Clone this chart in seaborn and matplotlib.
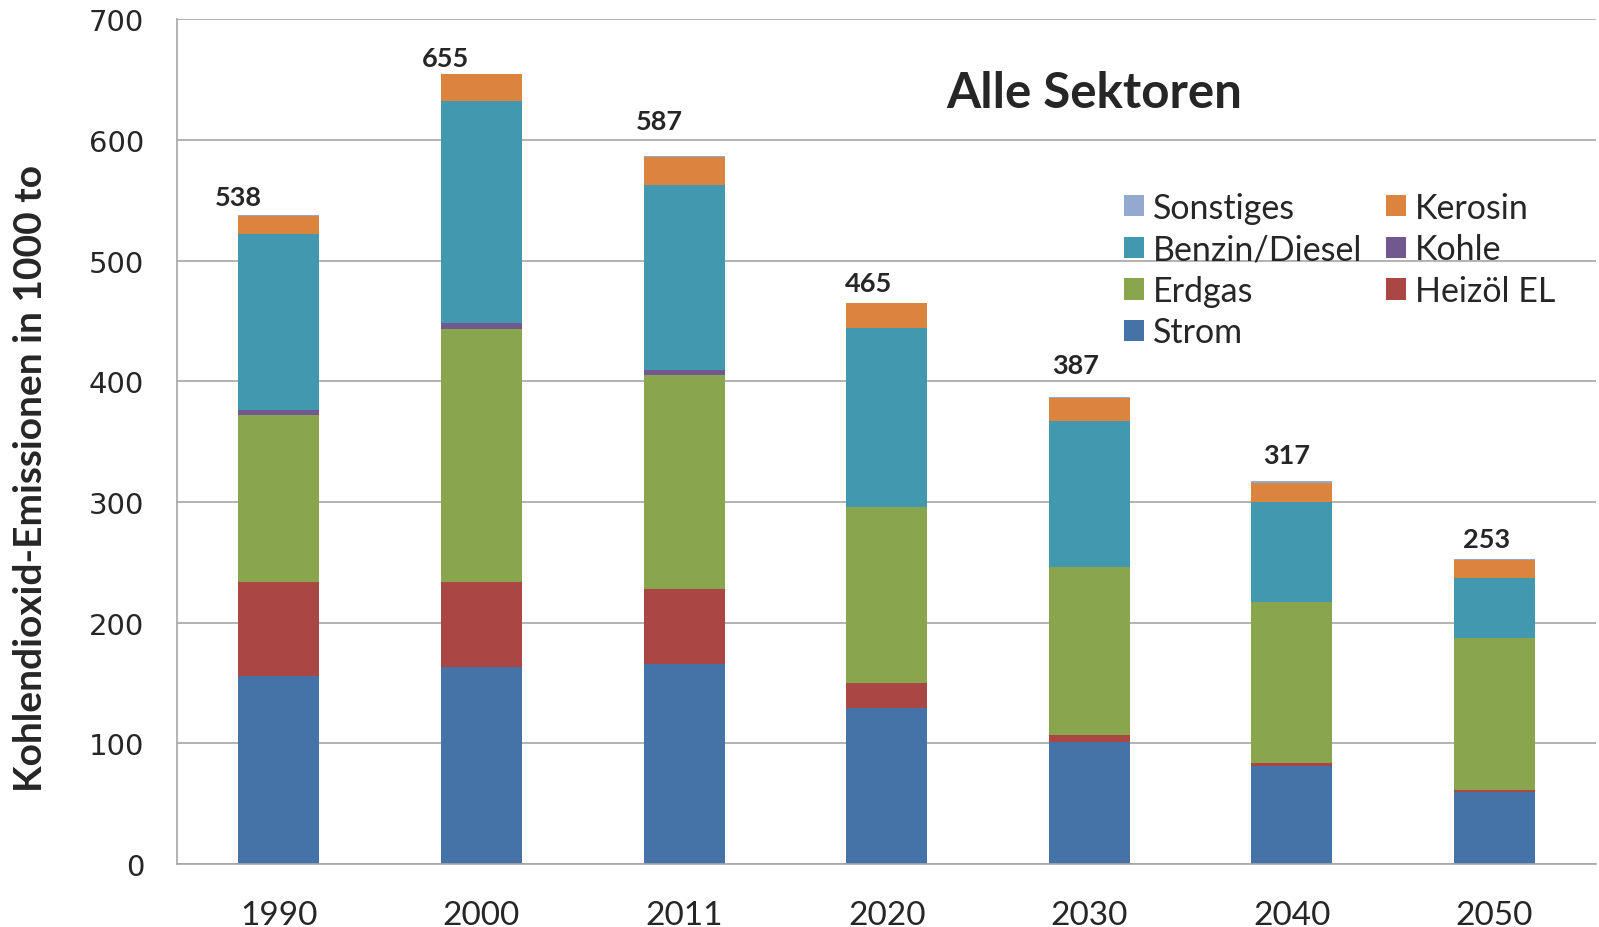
import matplotlib
matplotlib.use("Agg")
import matplotlib.pyplot as plt
from matplotlib.patches import Patch
from matplotlib.ticker import FixedLocator, MultipleLocator
import numpy as np
import pandas as pd
import seaborn as sns

# Data (1000 t CO2)
years = ["1990", "2000", "2011", "2020", "2030", "2040", "2050"]
strom = [156, 163, 166, 129, 101, 81, 60]
heizoel = [78, 71, 62, 21, 6, 3, 1]
erdgas = [138, 209, 177, 146, 139, 133, 126]
kohle = [4, 5, 4, 0, 0, 0, 0]
benzin = [146, 184, 154, 148, 121, 83, 50]
kerosin = [15, 23, 23, 21, 19, 16, 15]
sonstiges = [1, 0, 1, 0, 1, 1, 1]

# stacking order bottom -> top
series = ["Strom", "Heizöl EL", "Erdgas", "Kohle", "Benzin/Diesel", "Kerosin", "Sonstiges"]
values = [strom, heizoel, erdgas, kohle, benzin, kerosin, sonstiges]
colors = ["#4572A7", "#AA4643", "#89A54E", "#71588F", "#4198AF", "#DB843D", "#93A9CF"]

df = pd.DataFrame(dict(zip(series, values)), index=years)
cum = df.cumsum(axis=1)
totals = df.sum(axis=1)

# manual label nudges (points), like the hand-placed text boxes in the original
label_dx = [-29, -26, -18, -13, -10, -4, -6]
label_dy = [13, 11, 25, 14, 23, 19, 14]

sns.set_style("white")
plt.rcParams["font.family"] = ["Lato", "DejaVu Sans"]

fig = plt.figure(figsize=(15.99, 9.28), dpi=100)
ax = fig.add_axes([0.111, 0.068, 0.887, 0.910])

# draw cumulative totals from top layer down, so each lower layer covers the one above
for name, col in zip(series[::-1], colors[::-1]):
    sns.barplot(x=years, y=cum[name].values, color=col, width=0.4, saturation=1,
                linewidth=0, errorbar=None, ax=ax)

for i, yr in enumerate(years):
    ax.annotate(f"{int(round(totals[yr]))}", xy=(i, totals[yr]),
                xytext=(label_dx[i], label_dy[i]), textcoords="offset points",
                ha="center", va="center", fontsize=19.5, fontweight="bold")

ax.set_ylim(0, 700)
ax.set_xlim(-0.5, len(years) - 0.5)
ax.yaxis.set_major_locator(MultipleLocator(100))
ax.yaxis.grid(True, color="#A6A6A6", lw=1.2)
ax.set_axisbelow(True)

for s in ["top", "right"]:
    ax.spines[s].set_visible(False)
for s in ["left", "bottom"]:
    ax.spines[s].set_color("#A6A6A6")
    ax.spines[s].set_linewidth(1.2)

ax.tick_params(axis="x", which="major", length=0, pad=26, labelsize=24)
ax.xaxis.set_minor_locator(FixedLocator(np.arange(-0.5, len(years), 1)))
ax.tick_params(axis="x", which="minor", length=8, width=1.2, color="#A6A6A6", direction="out")
ax.tick_params(axis="y", length=8, width=1.2, color="#A6A6A6", direction="out", pad=16, labelsize=21)
for lbl in ax.get_yticklabels():
    lbl.set_family("DejaVu Sans")

ax.set_xlabel("")
ax.set_ylabel("Kohlendioxid-Emissionen in 1000 to", fontsize=28, fontweight="bold")
ax.yaxis.set_label_coords(-0.091, 0.458)

ax.text(0.646, 0.914, "Alle Sektoren", transform=ax.transAxes, ha="center", va="center",
        fontsize=35.5, fontweight="bold")

# legend laid out like Excel: reversed stack order, filled row-wise
col_map = dict(zip(series, colors))
leg_order = ["Sonstiges", "Benzin/Diesel", "Erdgas", "Strom", "Kerosin", "Kohle", "Heizöl EL"]
handles = [Patch(facecolor=col_map[n], edgecolor="none", label=n) for n in leg_order]
ax.legend(handles=handles, ncol=2, loc="upper left", bbox_to_anchor=(0.6456, 0.832),
          frameon=False, fontsize=24.5, handlelength=0.58, handleheight=0.58,
          handletextpad=0.27, columnspacing=0.7, labelspacing=0.28)

fig.savefig("out.png", dpi=100)
